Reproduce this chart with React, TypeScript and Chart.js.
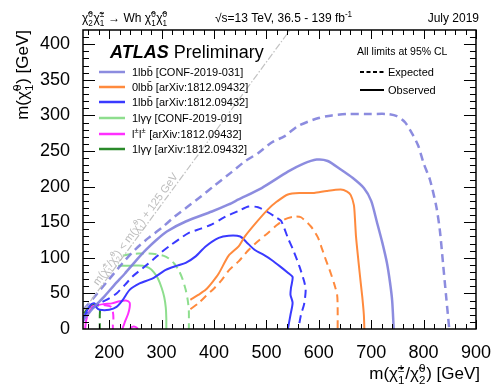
import React, { useEffect, useRef } from 'react';
import { Chart, registerables } from 'chart.js';
Chart.register(...registerables);

// ---------- data (GeV) ----------
const lbbCONF_obs = [[150,12],[170,30],[190,45],[210,62],[230,78],[250,95],[270,111],[290,125],[310,137],[346,151],[396,165],[428,175],[447,182],[491,198],[541,221],[570,232],[596,238],[617,236],[642,224],[665,212],[686,198],[700,180],[711,150],[721,122],[730,93],[736,65],[740,40],[743,0]];
const lbbCONF_exp = [[152,28],[175,48],[200,70],[225,92],[250,112],[275,128],[300,142],[325,158],[350,172],[375,186],[400,201],[433,220],[460,236],[484,247],[510,262],[535,271],[560,285],[598,296],[625,300],[654,302],[700,302],[730,302],[749,299],[765,290],[780,272],[790,257],[800,233],[812,210],[824,173],[831,139],[837,93],[843,46],[849,0]];
const bb0l_obs = [[355,41],[370,48],[384,55],[397,66],[409,78],[428,103],[447,116],[459,130],[480,149],[503,168],[520,179],[541,189],[566,191],[591,191],[615,194],[642,196],[654,193],[661,188],[667,174],[669,155],[671,130],[676,93],[680,65],[683,45],[686,20],[687,0]];
const bb0l_exp = [[355,28],[370,36],[384,46],[400,57],[415,69],[428,82],[447,95],[466,111],[485,124],[503,135],[520,146],[535,154],[554,158],[566,157],[585,144],[598,129],[606,113],[614,96],[623,78],[630,62],[635,48],[636,30],[636,0]];
const lbbArx_obs = [[150,10],[154,20],[160,29],[166,35],[172,36],[176,30],[182,27],[200,27],[214,31],[226,41],[239,55],[258,64],[283,71],[308,83],[330,89],[346,93],[365,102],[384,116],[409,128],[428,131],[450,130],[462,122],[478,111],[495,104],[510,97],[526,88],[541,79],[550,73],[547,58],[546,48],[550,37],[546,20],[541,0]];
const lbbArx_exp = [[150,15],[160,24],[170,30],[182,36],[200,43],[214,50],[230,62],[245,74],[265,86],[283,97],[300,108],[314,116],[333,126],[352,135],[375,141],[396,147],[420,157],[447,166],[466,172],[484,171],[503,164],[518,157],[528,152],[541,128],[550,113],[563,88],[572,67],[575,55],[572,35],[566,20],[561,0]];
const yyCONF_obs = [[217,89],[240,89],[264,89],[276,86],[285,80],[293,71],[300,58],[305,45],[308,30],[309,15],[309,0]];
const yyCONF_exp = [[226,103],[240,105],[255,106],[275,106],[290,105],[303,103],[314,99],[324,92],[333,82],[340,70],[346,55],[350,40],[352,25],[352,0]];
const ss_obs = [[154,0],[156,12],[160,22],[166,29],[175,33],[190,35],[205,36],[220,39],[232,40],[239,37],[239,30],[236,21],[231,12],[227,4],[225,0]];
const ss_obs2 = [[239,0],[244,3],[250,3],[255,0]];
const ss_exp = [[165,31],[180,34],[195,33],[204,31],[207,24],[208,15],[207,6],[207,0]];
const yyArx_obs = [[152,22],[157,27],[163,31],[168,33],[174,34],[180,33]];
const yyArx_exp = [[165,33],[176,34],[182,31],[182,18],[182,0]];
const kinLine = [[150,25],[545,420]];

const xTickValues = [200, 300, 400, 500, 600, 700, 800, 900];
const yTickValues = [0, 50, 100, 150, 200, 250, 300, 350, 400];

const C_LB = 'rgba(128,128,220,0.9)';
const C_OR = '#ff8a3d';
const C_BL = '#3a3aff';
const C_LG = '#8ede8e';
const C_MG = '#ff30ff';
const C_DG = '#2a8a2a';
const DASH = [8, 5];
const FAM = '"Liberation Sans", Arial, Helvetica, sans-serif';

type Seg = string | { sup?: string; sub?: string };
const CHI = '\u03C7\u0303';

const legendLabels: Seg[][] = [
  ['1lbb\u0304 [CONF-2019-031]'],
  ['0lbb\u0304 [arXiv:1812.09432]'],
  ['1lbb\u0304 [arXiv:1812.09432]'],
  ['1l\u03B3\u03B3 [CONF-2019-019]'],
  ['l', { sup: '\u00B1' }, 'l', { sup: '\u00B1' }, ' [arXiv:1812.09432]'],
  ['1l\u03B3\u03B3 [arXiv:1812.09432]'],
];
const legendColors = [C_LB, C_OR, C_BL, C_LG, C_MG, C_DG];

const pts = (a: number[][]) => a.map(([x, y]) => ({ x, y }));

function layoutRich(ctx: CanvasRenderingContext2D, segs: Seg[], size: number, style = '') {
  let w = 0;
  const items: { t: string; x: number; dy: number; sz: number }[] = [];
  for (const s of segs) {
    if (typeof s === 'string') {
      ctx.font = `${style}${size}px ${FAM}`;
      items.push({ t: s, x: w, dy: 0, sz: size });
      w += ctx.measureText(s).width;
    } else {
      const ss = size * 0.68;
      ctx.font = `${style}${ss}px ${FAM}`;
      let mw = 0;
      if (s.sup) { items.push({ t: s.sup, x: w, dy: -size * 0.42, sz: ss }); mw = Math.max(mw, ctx.measureText(s.sup).width); }
      if (s.sub) { items.push({ t: s.sub, x: w, dy: size * 0.3, sz: ss }); mw = Math.max(mw, ctx.measureText(s.sub).width); }
      w += mw + size * 0.05;
    }
  }
  return { w, items };
}

function drawRich(ctx: CanvasRenderingContext2D, x: number, y: number, segs: Seg[], size: number, align: 'left' | 'right' | 'center' = 'left', color = '#000', style = '') {
  const { w, items } = layoutRich(ctx, segs, size, style);
  const x0 = align === 'left' ? x : align === 'right' ? x - w : x - w / 2;
  ctx.fillStyle = color;
  ctx.textAlign = 'left';
  ctx.textBaseline = 'alphabetic';
  for (const it of items) {
    ctx.font = `${style}${it.sz}px ${FAM}`;
    ctx.fillText(it.t, x0 + it.x, y + it.dy);
  }
  return w;
}

const framePlugin = {
  id: 'atlasFrame',
  afterDatasetsDraw(chart: any) {
    const { ctx, chartArea: a, scales } = chart;
    const xs = scales.x, ys = scales.y;
    ctx.save();
    ctx.strokeStyle = '#000';
    ctx.lineWidth = 1;
    ctx.beginPath();
    for (let v = 160; v <= 900; v += 20) {
      const px = Math.round(xs.getPixelForValue(v)) + 0.5;
      const L = v % 100 === 0 ? 9 : 5;
      ctx.moveTo(px, a.bottom); ctx.lineTo(px, a.bottom - L);
      ctx.moveTo(px, a.top); ctx.lineTo(px, a.top + L);
    }
    for (let v = 10; v < 420; v += 10) {
      const py = Math.round(ys.getPixelForValue(v)) + 0.5;
      const L = v % 50 === 0 ? 12 : 6;
      ctx.moveTo(a.left, py); ctx.lineTo(a.left + L, py);
      ctx.moveTo(a.right, py); ctx.lineTo(a.right - L, py);
    }
    ctx.stroke();
    ctx.lineWidth = 1.5;
    ctx.strokeRect(a.left, a.top, a.right - a.left, a.bottom - a.top);
    ctx.restore();
  },
  afterDraw(chart: any) {
    const { ctx, chartArea: a, scales } = chart;
    const xs = scales.x, ys = scales.y;
    ctx.save();
    // header
    drawRich(ctx, 82, 22, [CHI, { sup: '0', sub: '2' }, CHI, { sup: '\u00B1', sub: '1' }, ' \u2192 Wh ', CHI, { sup: '0', sub: '1' }, CHI, { sup: '0', sub: '1' }], 12);
    drawRich(ctx, 215, 22, ['\u221As=13 TeV, 36.5 - 139 fb', { sup: '-1' }], 12);
    drawRich(ctx, 479, 22, ['July 2019'], 12, 'right');
    // axis titles
    drawRich(ctx, 480, 379, ['m(', CHI, { sup: '\u00B1', sub: '1' }, '/', CHI, { sup: '0', sub: '2' }, ') [GeV]'], 17, 'right');
    ctx.save();
    ctx.translate(28, 30);
    ctx.rotate(-Math.PI / 2);
    drawRich(ctx, 0, 0, ['m(', CHI, { sup: '0', sub: '1' }, ') [GeV]'], 17, 'right');
    ctx.restore();
    // ATLAS Preliminary
    const wA = drawRich(ctx, 110, 58, ['ATLAS'], 18, 'left', '#000', 'italic bold ');
    drawRich(ctx, 110 + wA + 5, 58, ['Preliminary'], 18);
    // legend
    const rows = [72, 87, 102, 118, 134, 149];
    legendLabels.forEach((lab, i) => {
      const yy = rows[i];
      ctx.strokeStyle = legendColors[i];
      ctx.lineWidth = 2.5;
      ctx.setLineDash([]);
      ctx.beginPath(); ctx.moveTo(99, yy); ctx.lineTo(125, yy); ctx.stroke();
      drawRich(ctx, 132, yy + 4, lab, 11);
    });
    // right legend
    drawRich(ctx, 357, 55, ['All limits at 95% CL'], 10.5);
    ctx.strokeStyle = '#000';
    ctx.lineWidth = 2;
    ctx.setLineDash([4, 2.5]);
    ctx.beginPath(); ctx.moveTo(360, 72); ctx.lineTo(384, 72); ctx.stroke();
    ctx.setLineDash([]);
    ctx.beginPath(); ctx.moveTo(360, 90); ctx.lineTo(384, 90); ctx.stroke();
    drawRich(ctx, 388, 76, ['Expected'], 11);
    drawRich(ctx, 388, 94, ['Observed'], 11);
    // kinematic text
    const p1x = xs.getPixelForValue(183), p1y = ys.getPixelForValue(58);
    const p2x = xs.getPixelForValue(400), p2y = ys.getPixelForValue(275);
    const ang = Math.atan2(p2y - p1y, p2x - p1x);
    ctx.save();
    ctx.beginPath();
    ctx.rect(a.left, a.top, a.right - a.left, a.bottom - a.top);
    ctx.clip();
    ctx.translate(p1x, p1y);
    ctx.rotate(ang);
    drawRich(ctx, 0, -3, ['m(', CHI, { sup: '\u00B1', sub: '1' }, '/', CHI, { sup: '0', sub: '2' }, ') < m(', CHI, { sup: '0', sub: '1' }, ') + 125 GeV'], 11, 'left', '#bdbdbd');
    ctx.restore();
    ctx.restore();
  },
};

function ds(data: number[][], color: string, dashed: boolean, width = 2) {
  return {
    data: pts(data),
    borderColor: color,
    borderWidth: width,
    borderDash: dashed ? DASH : [],
    showLine: true,
    pointRadius: 0,
    tension: 0.25,
    fill: false,
  };
}

export default function App() {
  const ref = useRef<HTMLCanvasElement | null>(null);
  useEffect(() => {
    if (!ref.current) return;
    const chart = new Chart(ref.current, {
      type: 'scatter',
      data: {
        datasets: [
          { ...ds(kinLine, '#c2c2c2', false, 1.2), borderDash: [7, 2, 1.5, 2], tension: 0 },
          ds(lbbCONF_obs, C_LB, false, 2.5),
          ds(lbbCONF_exp, C_LB, true, 2.5),
          ds(bb0l_obs, C_OR, false),
          ds(bb0l_exp, C_OR, true),
          ds(lbbArx_obs, C_BL, false),
          ds(lbbArx_exp, C_BL, true),
          ds(yyCONF_obs, C_LG, false),
          ds(yyCONF_exp, C_LG, true),
          ds(ss_obs, C_MG, false),
          ds(ss_obs2, C_MG, false),
          ds(ss_exp, C_MG, true),
          ds(yyArx_obs, C_DG, false),
          ds(yyArx_exp, C_DG, true),
        ] as any,
      },
      options: {
        animation: false,
        responsive: false,
        maintainAspectRatio: false,
        layout: { padding: { top: 30, right: 16, left: 0, bottom: 0 } },
        plugins: { legend: { display: false }, tooltip: { enabled: false } },
        scales: {
          x: {
            type: 'linear',
            min: 150,
            max: 900,
            grid: { display: false },
            border: { display: false },
            ticks: { color: '#000', font: { size: 18, family: FAM }, padding: 5, maxRotation: 0, autoSkip: false },
            afterBuildTicks: (s: any) => { s.ticks = xTickValues.map((v) => ({ value: v })); },
            afterFit: (s: any) => { s.height = 58; },
          },
          y: {
            type: 'linear',
            min: 0,
            max: 420,
            grid: { display: false },
            border: { display: false },
            ticks: { color: '#000', font: { size: 18, family: FAM }, padding: 5, autoSkip: false },
            afterBuildTicks: (s: any) => { s.ticks = yTickValues.map((v) => ({ value: v })); },
            afterFit: (s: any) => { s.width = 83; },
          },
        },
      } as any,
      plugins: [framePlugin],
    });
    return () => chart.destroy();
  }, []);
  return (
    <div style={{ position: 'fixed', left: 0, top: 0, width: 496, height: 387, background: '#fff' }}>
      <canvas ref={ref} width={496} height={387} style={{ display: 'block' }} />
    </div>
  );
}
